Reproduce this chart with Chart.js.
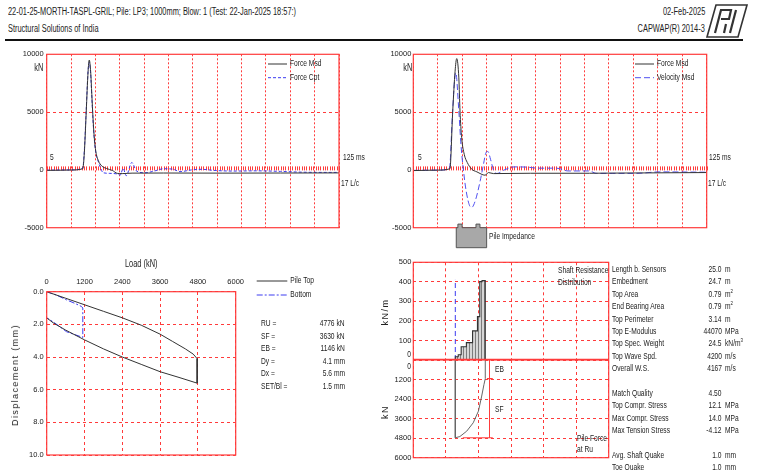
<!DOCTYPE html>
<html>
<head>
<meta charset="utf-8">
<title>CAPWAP LP3</title>
<script src="https://cdn.jsdelivr.net/npm/chart.js@4.4.1/dist/chart.umd.min.js"></script>
<style>
  body { margin: 0; width: 760px; height: 470px; position: relative; overflow: hidden; background: #fff;
    font-family: "Liberation Sans", Arial, sans-serif; font-size: 9px; color: #222; }
  .t { position: absolute; white-space: nowrap; line-height: 10px; transform: scaleX(0.74); transform-origin: 0 50%; }
  .t.r { transform-origin: 100% 50%; }
  .rot { position: absolute; white-space: nowrap; line-height: 10px; transform: translate(-50%, -50%) rotate(-90deg); }
  canvas { position: absolute; }
  sup { font-size: 6px; line-height: 0; }
  #rule { position: absolute; left: 5px; top: 39px; width: 738px; height: 2px; background: #111; }
</style>
</head>
<body>
<div class="t" style="left:8px;top:7px;font-size:10px">22-01-25-MORTH-TASPL-GRIL; Pile: LP3; 1000mm; Blow: 1 (Test: 22-Jan-2025 18:57:)</div>
<div class="t" style="left:8px;top:24px;font-size:10px">Structural Solutions of India</div>
<div class="t r" style="right:55px;top:7px;font-size:10px">02-Feb-2025</div>
<div class="t r" style="right:55px;top:24px;font-size:10px">CAPWAP(R) 2014-3</div>
<svg style="position:absolute;left:706px;top:4px" width="42" height="34" viewBox="0 0 42 34">
  <polygon points="10,1 41,1 32,33 1,33" fill="none" stroke="#333" stroke-width="1.6"/>
  <polyline points="9,29 15,6 25,6 23,15 15,15" fill="none" stroke="#333" stroke-width="2.2"/>
  <polyline points="30,6 24,29" fill="none" stroke="#333" stroke-width="2.2"/>
  <polyline points="20,20 18,29" fill="none" stroke="#333" stroke-width="2.2"/>
</svg>
<div id="rule"></div>

<canvas id="tl" width="380" height="205" style="left:0;top:45px"></canvas>
<canvas id="tr" width="380" height="205" style="left:380px;top:45px"></canvas>
<canvas id="ld" width="380" height="215" style="left:0;top:255px"></canvas>
<canvas id="sr" width="240" height="105" style="left:370px;top:255px"></canvas>
<canvas id="pf" width="240" height="110" style="left:370px;top:360px"></canvas>

<!-- trace annotations -->
<div class="t r" style="right:716.5px;top:63px;font-size:10px">kN</div>
<div class="t" style="left:50px;top:152px">5</div>
<div class="t" style="left:342.5px;top:152px">125 ms</div>
<div class="t" style="left:340.5px;top:178px">17 L/c</div>
<div class="t r" style="right:347.5px;top:63px;font-size:10px">kN</div>
<div class="t" style="left:418px;top:152px">5</div>
<div class="t" style="left:709px;top:152px">125 ms</div>
<div class="t" style="left:708px;top:178px">17 L/c</div>
<div class="t" style="left:489px;top:231px">Pile Impedance</div>

<!-- load / displacement -->
<div class="t" style="left:125px;top:259px;font-size:10px">Load (kN)</div>
<div class="rot" style="left:15px;top:375px;font-size:9px;letter-spacing:1.4px">Displacement (mm)</div>
<div id="ruBox"></div>

<!-- resistance distribution -->
<div class="rot" style="left:385px;top:312px;font-size:9px;letter-spacing:1.5px">kN/m</div>
<div class="rot" style="left:385px;top:412px;font-size:9px;letter-spacing:1.5px">kN</div>
<div class="t r" style="right:348.5px;top:348.5px">0</div>
<div class="t r" style="right:348.5px;top:361px">0</div>
<div class="t" style="left:557.5px;top:265px">Shaft Resistance</div>
<div class="t" style="left:557.5px;top:276.5px">Distribution</div>
<div class="t" style="left:494.5px;top:363.5px">EB</div>
<div class="t" style="left:494.5px;top:404px">SF</div>
<div class="t" style="left:577px;top:432.5px">Pile Force</div>
<div class="t" style="left:577px;top:443.5px">at Ru</div>
<div id="tbl"></div>

<script>
// ---- data ----
const TIME_MAX = 125; // ms across the trace window
const timeGrid = [0, 1, 2, 3, 4, 5, 6, 7, 8, 9, 10, 11, 12];

// top left: force measured vs computed (kN)
const tlMsdT = [0, 5.2, 10.4, 15.4, 16.1, 16.9, 17.7, 18.2, 18.8, 19.3, 19.8, 20.3, 21.0, 22.1, 23.5, 25.6, 28.1, 30.2, 32.3, 36.5, 50, 75, 100, 125];
const tlMsdF = [-40, -30, -10, 100, 1500, 5000, 8500, 9500, 8500, 6500, 4500, 2900, 1600, 800, 350, 120, -50, -300, -320, -280, -270, -280, -270, -260];
const tlCptT = [0, 10.4, 15.4, 16.1, 16.9, 17.7, 18.2, 18.8, 19.3, 19.8, 20.3, 21.0, 22.1, 23.0, 24.1, 27.0, 30.5, 31.4, 32.7, 34.0, 36.4, 38.4, 42.0, 46, 50, 54, 57, 62, 66, 72, 80, 90, 100, 110, 125];
const tlCptF = [-20, 0, 150, 1700, 5200, 8600, 9300, 8300, 6300, 4300, 2800, 1500, 700, 200, -240, -300, -370, -460, 120, -500, 640, -90, -250, -100, 100, 60, -150, 0, 50, -50, -100, -80, -130, -200, -220];

// top right: force and velocity measured (kN)
const trMsdT = [0, 10.4, 15.6, 16.8, 17.8, 18.5, 19.4, 19.9, 20.6, 21.7, 23.0, 24.9, 27.1, 30.6, 32.0, 34.2, 50, 75, 100, 125];
const trMsdF = [-60, -20, 100, 5090, 8530, 9630, 7960, 5090, 2790, 1350, 640, 60, -170, -460, -230, -320, -290, -290, -260, -230];
const trVelT = [0, 10.4, 15.4, 16.6, 17.6, 18.1, 19.4, 20.3, 21.4, 22.5, 24.0, 24.9, 26.4, 28.5, 29.9, 31.0, 31.8, 32.9, 34.3, 35.7, 38.5, 43, 48.5, 53, 61, 66, 75, 78, 85, 95, 105, 125];
const trVelF = [-40, -20, 100, 4500, 7800, 8400, 5090, 2200, -100, -1800, -3100, -3240, -2670, -950, 490, 1500, 1590, 920, -100, -310, -30, 260, 240, 150, 150, -90, -90, -300, -300, -300, -170, -200];

// pile impedance profile (relative to nominal)
const impT = [18.3, 19.0, 19.0, 20.8, 20.8, 26.7, 26.7, 28.4, 28.4, 31.25];
const impZ = [1.0, 1.0, 1.09, 1.09, 1.0, 1.0, 1.09, 1.09, 1.0, 1.0];

// simulated static load test (kN, mm)
const topLoad = [0, 600, 1200, 1800, 2400, 3000, 3600, 4000, 4400, 4650, 4776, 4776, 4200, 3600, 3000, 2400, 1800, 1200, 600, 200, 0];
const topDisp = [0, 0.4, 0.8, 1.2, 1.6, 2.05, 2.6, 3.05, 3.5, 3.82, 4.1, 5.6, 5.25, 4.9, 4.45, 4.0, 3.5, 2.95, 2.35, 1.9, 1.6];
const botLoad = [0, 300, 630, 900, 1100, 1146, 1146, 630, 200, 0];
const botDisp = [0, 0.2, 0.5, 0.72, 0.9, 1.0, 2.8, 2.45, 1.84, 1.6];

// shaft resistance per segment (kN/m), segment bounds in plot units
const segBounds = [1.29, 1.38, 1.47, 1.63, 1.82, 1.97, 2.04, 2.11, 2.21];
const segRes = [17, 27, 68, 89, 149, 222, 401, 406];
const skinLineX = [1.29, 1.29];
const skinLineY = [0, 410];

// pile force at Ru along the pile (kN)
const pfPos = [1.29, 1.29, 1.43, 1.64, 1.84, 2.0, 2.1, 2.17, 2.21, 2.21];
const pfForce = [0, 4776, 4700, 4370, 3857, 3140, 2215, 1500, 1146, 0];
const RU = 4776, EB = 1146;

const ruRows = [["RU =", "4776 kN"], ["SF =", "3630 kN"], ["EB =", "1146 kN"], ["Dy =", "4.1 mm"], ["Dx =", "5.6 mm"], ["SET/Bl =", "1.5 mm"]];
const tblRows = [
  ["Length b. Sensors", "25.0", "m"], ["Embedment", "24.7", "m"], ["Top Area", "0.79", "m<sup>2</sup>"],
  ["End Bearing Area", "0.79", "m<sup>2</sup>"], ["Top Perimeter", "3.14", "m"], ["Top E-Modulus", "44070", "MPa"],
  ["Top Spec. Weight", "24.5", "kN/m<sup>3</sup>"], ["Top Wave Spd.", "4200", "m/s"], ["Overall W.S.", "4167", "m/s"],
  null,
  ["Match Quality", "4.50", ""], ["Top Compr. Stress", "12.1", "MPa"], ["Max Compr. Stress", "14.0", "MPa"],
  ["Max Tension Stress", "-4.12", "MPa"],
  null,
  ["Avg. Shaft Quake", "1.0", "mm"], ["Toe Quake", "1.0", "mm"]
];

// ---- styles ----
const FONT = '"Liberation Sans", Arial, sans-serif';
const RED = "#ff3b3b";
const INK = "#333";
const BLUE = "#3c3cf0";
const CLEAR = "rgba(0,0,0,0)";

Chart.defaults.font.family = FONT;
Chart.defaults.font.size = 7.5;
Chart.defaults.color = "#222";
Chart.defaults.animation = false;
Chart.defaults.plugins.legend.display = false;
Chart.defaults.plugins.tooltip.enabled = false;
Chart.defaults.elements.point.radius = 0;

const pts = (xs, ys) => xs.map((x, i) => ({ x, y: ys[i] }));
const fixY = w => s => { s.width = w; s.paddingTop = 0; s.paddingBottom = 0; };
const fixX = h => s => { s.height = h; s.paddingLeft = 0; s.paddingRight = 0; };
const plain = v => String(v);

// red box round the plot area
const framePlugin = {
  id: "frame",
  afterDraw(chart, args, opts) {
    const { ctx, chartArea: a } = chart;
    ctx.save();
    ctx.strokeStyle = RED;
    ctx.lineWidth = 1.2;
    ctx.strokeRect(a.left, a.top, a.width, a.height);
    if (opts.thickBottom) {
      ctx.lineWidth = 2.5;
      ctx.beginPath();
      ctx.moveTo(a.left, a.bottom);
      ctx.lineTo(a.right, a.bottom);
      ctx.stroke();
    }
    ctx.restore();
  }
};

// 1 ms tick ruler along the zero line
const rulerPlugin = {
  id: "ruler",
  beforeDatasetsDraw(chart) {
    const { ctx, scales: { x, y } } = chart;
    const y0 = y.getPixelForValue(0) - 1.5;
    ctx.save();
    ctx.strokeStyle = RED;
    ctx.lineWidth = 1;
    for (let ms = 0; ms <= TIME_MAX; ms++) {
      const px = Math.round(x.getPixelForValue(ms)) + 0.5;
      ctx.beginPath();
      ctx.moveTo(px, y0 - 2);
      ctx.lineTo(px, y0 + 2);
      ctx.stroke();
    }
    ctx.restore();
  }
};

// small legend with line samples, narrow text
const legendPlugin = {
  id: "sideLegend",
  afterDraw(chart, args, o) {
    if (!o || o.x == null) return;
    const ctx = chart.ctx;
    ctx.save();
    ctx.font = "9px " + FONT;
    ctx.textBaseline = "middle";
    chart.data.datasets.filter(d => d.label).forEach((ds, i) => {
      const y = o.y + i * o.gap;
      ctx.strokeStyle = ds.borderColor;
      ctx.lineWidth = 1;
      ctx.setLineDash(ds.borderDash || []);
      ctx.beginPath();
      ctx.moveTo(o.x, y);
      ctx.lineTo(o.x + o.len, y);
      ctx.stroke();
      ctx.setLineDash([]);
      ctx.fillStyle = "#222";
      ctx.save();
      ctx.translate(o.x + o.len + 3, y);
      ctx.scale(0.74, 1);
      ctx.fillText(ds.label, 0, 0);
      ctx.restore();
    });
    ctx.restore();
  }
};

// impedance profile under the right trace
const impedancePlugin = {
  id: "impedance",
  afterDraw(chart) {
    const { ctx, chartArea: a, scales: { x } } = chart;
    const bottom = a.bottom + 20;
    ctx.save();
    ctx.beginPath();
    ctx.moveTo(x.getPixelForValue(impT[0]), bottom);
    impT.forEach((t, i) => ctx.lineTo(x.getPixelForValue(t), a.bottom - (impZ[i] - 1) * 40));
    ctx.lineTo(x.getPixelForValue(impT[impT.length - 1]), bottom);
    ctx.closePath();
    ctx.fillStyle = "#a8a8a8";
    ctx.fill();
    ctx.strokeStyle = "#555";
    ctx.lineWidth = 1;
    ctx.stroke();
    ctx.restore();
  }
};

function line(label, xs, ys, color, dash, extra) {
  return Object.assign({
    label, data: pts(xs, ys), showLine: true, borderColor: color, borderWidth: 1,
    borderDash: dash, pointRadius: 0, fill: false
  }, extra || {});
}

function traceChart(id, datasets, o) {
  return new Chart(document.getElementById(id), {
    type: "scatter",
    data: { datasets },
    options: {
      responsive: false,
      layout: { padding: { left: 0, top: 9.3, right: o.padRight, bottom: 22.3 } },
      scales: {
        x: {
          type: "linear", min: 0, max: TIME_MAX,
          afterBuildTicks: s => { s.ticks = timeGrid.map(g => ({ value: g * TIME_MAX / 12 })); },
          afterFit: fixX(0),
          ticks: { display: false },
          grid: { color: RED, drawTicks: false },
          border: { display: false, dash: [2, 2] }
        },
        y: {
          min: -5000, max: 10000,
          ticks: { stepSize: 5000, padding: o.tickPad, callback: plain },
          afterFit: fixY(o.yWidth),
          grid: { color: c => (c.tick && c.tick.value === 5000 ? RED : CLEAR), drawTicks: false },
          border: { display: false, dash: [3, 3] }
        }
      },
      plugins: { sideLegend: { x: o.legendX, y: 19, len: 19, gap: 13.7 } }
    },
    plugins: [rulerPlugin, framePlugin, legendPlugin].concat(o.extra || [])
  });
}

// Force Msd / Force Cpt
traceChart("tl", [
  line("Force Msd", tlMsdT, tlMsdF, INK, [], { cubicInterpolationMode: "monotone" }),
  line("Force Cpt", tlCptT, tlCptF, BLUE, [3, 2], { cubicInterpolationMode: "monotone" })
], { padRight: 41, yWidth: 46.7, tickPad: 3, legendX: 268 });

// Force Msd / Velocity Msd
traceChart("tr", [
  line("Force Msd", trMsdT, trMsdF, INK, [], { cubicInterpolationMode: "monotone" }),
  line("Velocity Msd", trVelT, trVelF, "#5050f0", [6, 3], { cubicInterpolationMode: "monotone" })
], { padRight: 53.3, yWidth: 33.3, tickPad: 2, legendX: 255, extra: [impedancePlugin] });

// Load - displacement
new Chart(document.getElementById("ld"), {
  type: "scatter",
  data: {
    datasets: [
      line("Pile Top", topLoad, topDisp, INK, []),
      line("Bottom", botLoad, botDisp, BLUE, [6, 2, 2, 2])
    ]
  },
  options: {
    responsive: false,
    layout: { padding: { left: 0, top: 0, right: 144.3, bottom: 15 } },
    scales: {
      x: {
        position: "top", min: 0, max: 6000,
        ticks: { stepSize: 1200, padding: 5, callback: plain },
        afterFit: fixX(36.7),
        grid: { color: RED, drawTicks: false },
        border: { display: false, dash: [3, 3] }
      },
      y: {
        reverse: true, min: 0, max: 10,
        ticks: { stepSize: 2, padding: 3, callback: v => v.toFixed(1) },
        afterFit: fixY(46.7),
        grid: { color: RED, drawTicks: false },
        border: { display: false, dash: [3, 3] }
      }
    },
    plugins: { sideLegend: { x: 256.7, y: 26, len: 30.6, gap: 14 } }
  },
  plugins: [framePlugin, legendPlugin]
});

// hatched fill for the resistance bars
function hatch() {
  const c = document.createElement("canvas");
  c.width = 3; c.height = 3;
  const g = c.getContext("2d");
  g.fillStyle = "#d6d6d6";
  g.fillRect(0, 0, 3, 3);
  g.fillStyle = "#7c7c7c";
  g.fillRect(0, 0, 1, 3);
  return g.createPattern(c, "repeat");
}

const segX = [segBounds[0]].concat(segBounds);
const segY = [0].concat(segRes, [0]);

function panelScales(yMin, yMax, step, reverse) {
  return {
    x: {
      type: "linear", min: 0, max: 6,
      ticks: { display: false, stepSize: 1 },
      afterFit: fixX(0),
      grid: { color: RED, drawTicks: false },
      border: { display: false, dash: [3, 3] }
    },
    y: {
      min: yMin, max: yMax, reverse,
      ticks: { stepSize: step, padding: 2, callback: v => (v === 0 ? "" : String(v)) },
      afterFit: fixY(43.3),
      grid: { color: RED, drawTicks: false },
      border: { display: false, dash: [3, 3] }
    }
  };
}

// Shaft resistance distribution (kN/m)
new Chart(document.getElementById("sr"), {
  type: "scatter",
  data: {
    datasets: [
      line(null, segX, segY, INK, [], { stepped: "before", fill: "origin", backgroundColor: hatch(), borderWidth: 1.1 }),
      line(null, skinLineX, skinLineY, BLUE, [5, 3])
    ]
  },
  options: {
    responsive: false,
    layout: { padding: { left: 0, top: 7.3, right: 1.3, bottom: 0 } },
    scales: panelScales(0, 500, 100, false),
    plugins: { frame: { thickBottom: true } }
  },
  plugins: [framePlugin]
});

// Pile force at Ru (kN)
new Chart(document.getElementById("pf"), {
  type: "scatter",
  data: {
    datasets: [
      line(null, pfPos, pfForce, "#666", []),
      line(null, [2.34, 2.34], [0, RU], RED, []),
      line(null, [2.26, 2.44], [EB, EB], RED, [], { borderWidth: 1.4 }),
      line(null, [1.52, 2.44], [RU, RU], RED, [])
    ]
  },
  options: {
    responsive: false,
    layout: { padding: { left: 0, top: 0, right: 1.3, bottom: 12.3 } },
    scales: panelScales(0, 6000, 1200, true)
  },
  plugins: [framePlugin]
});

// text blocks
const ruBox = document.getElementById("ruBox");
ruRows.forEach((r, i) => {
  const y = 323.3 + i * 12.5 - 5;
  ruBox.insertAdjacentHTML("beforeend",
    `<div class="t" style="left:261px;top:${y}px">${r[0]}</div>` +
    `<div class="t r" style="right:${760 - 345}px;top:${y}px">${r[1]}</div>`);
});
const tbl = document.getElementById("tbl");
tblRows.forEach((r, i) => {
  if (!r) return;
  const y = 269 + i * 12.4 - 5;
  tbl.insertAdjacentHTML("beforeend",
    `<div class="t" style="left:612px;top:${y}px">${r[0]}</div>` +
    `<div class="t r" style="right:${760 - 722}px;top:${y}px">${r[1]}</div>` +
    `<div class="t" style="left:724.5px;top:${y}px">${r[2]}</div>`);
});
</script>
</body>
</html>
